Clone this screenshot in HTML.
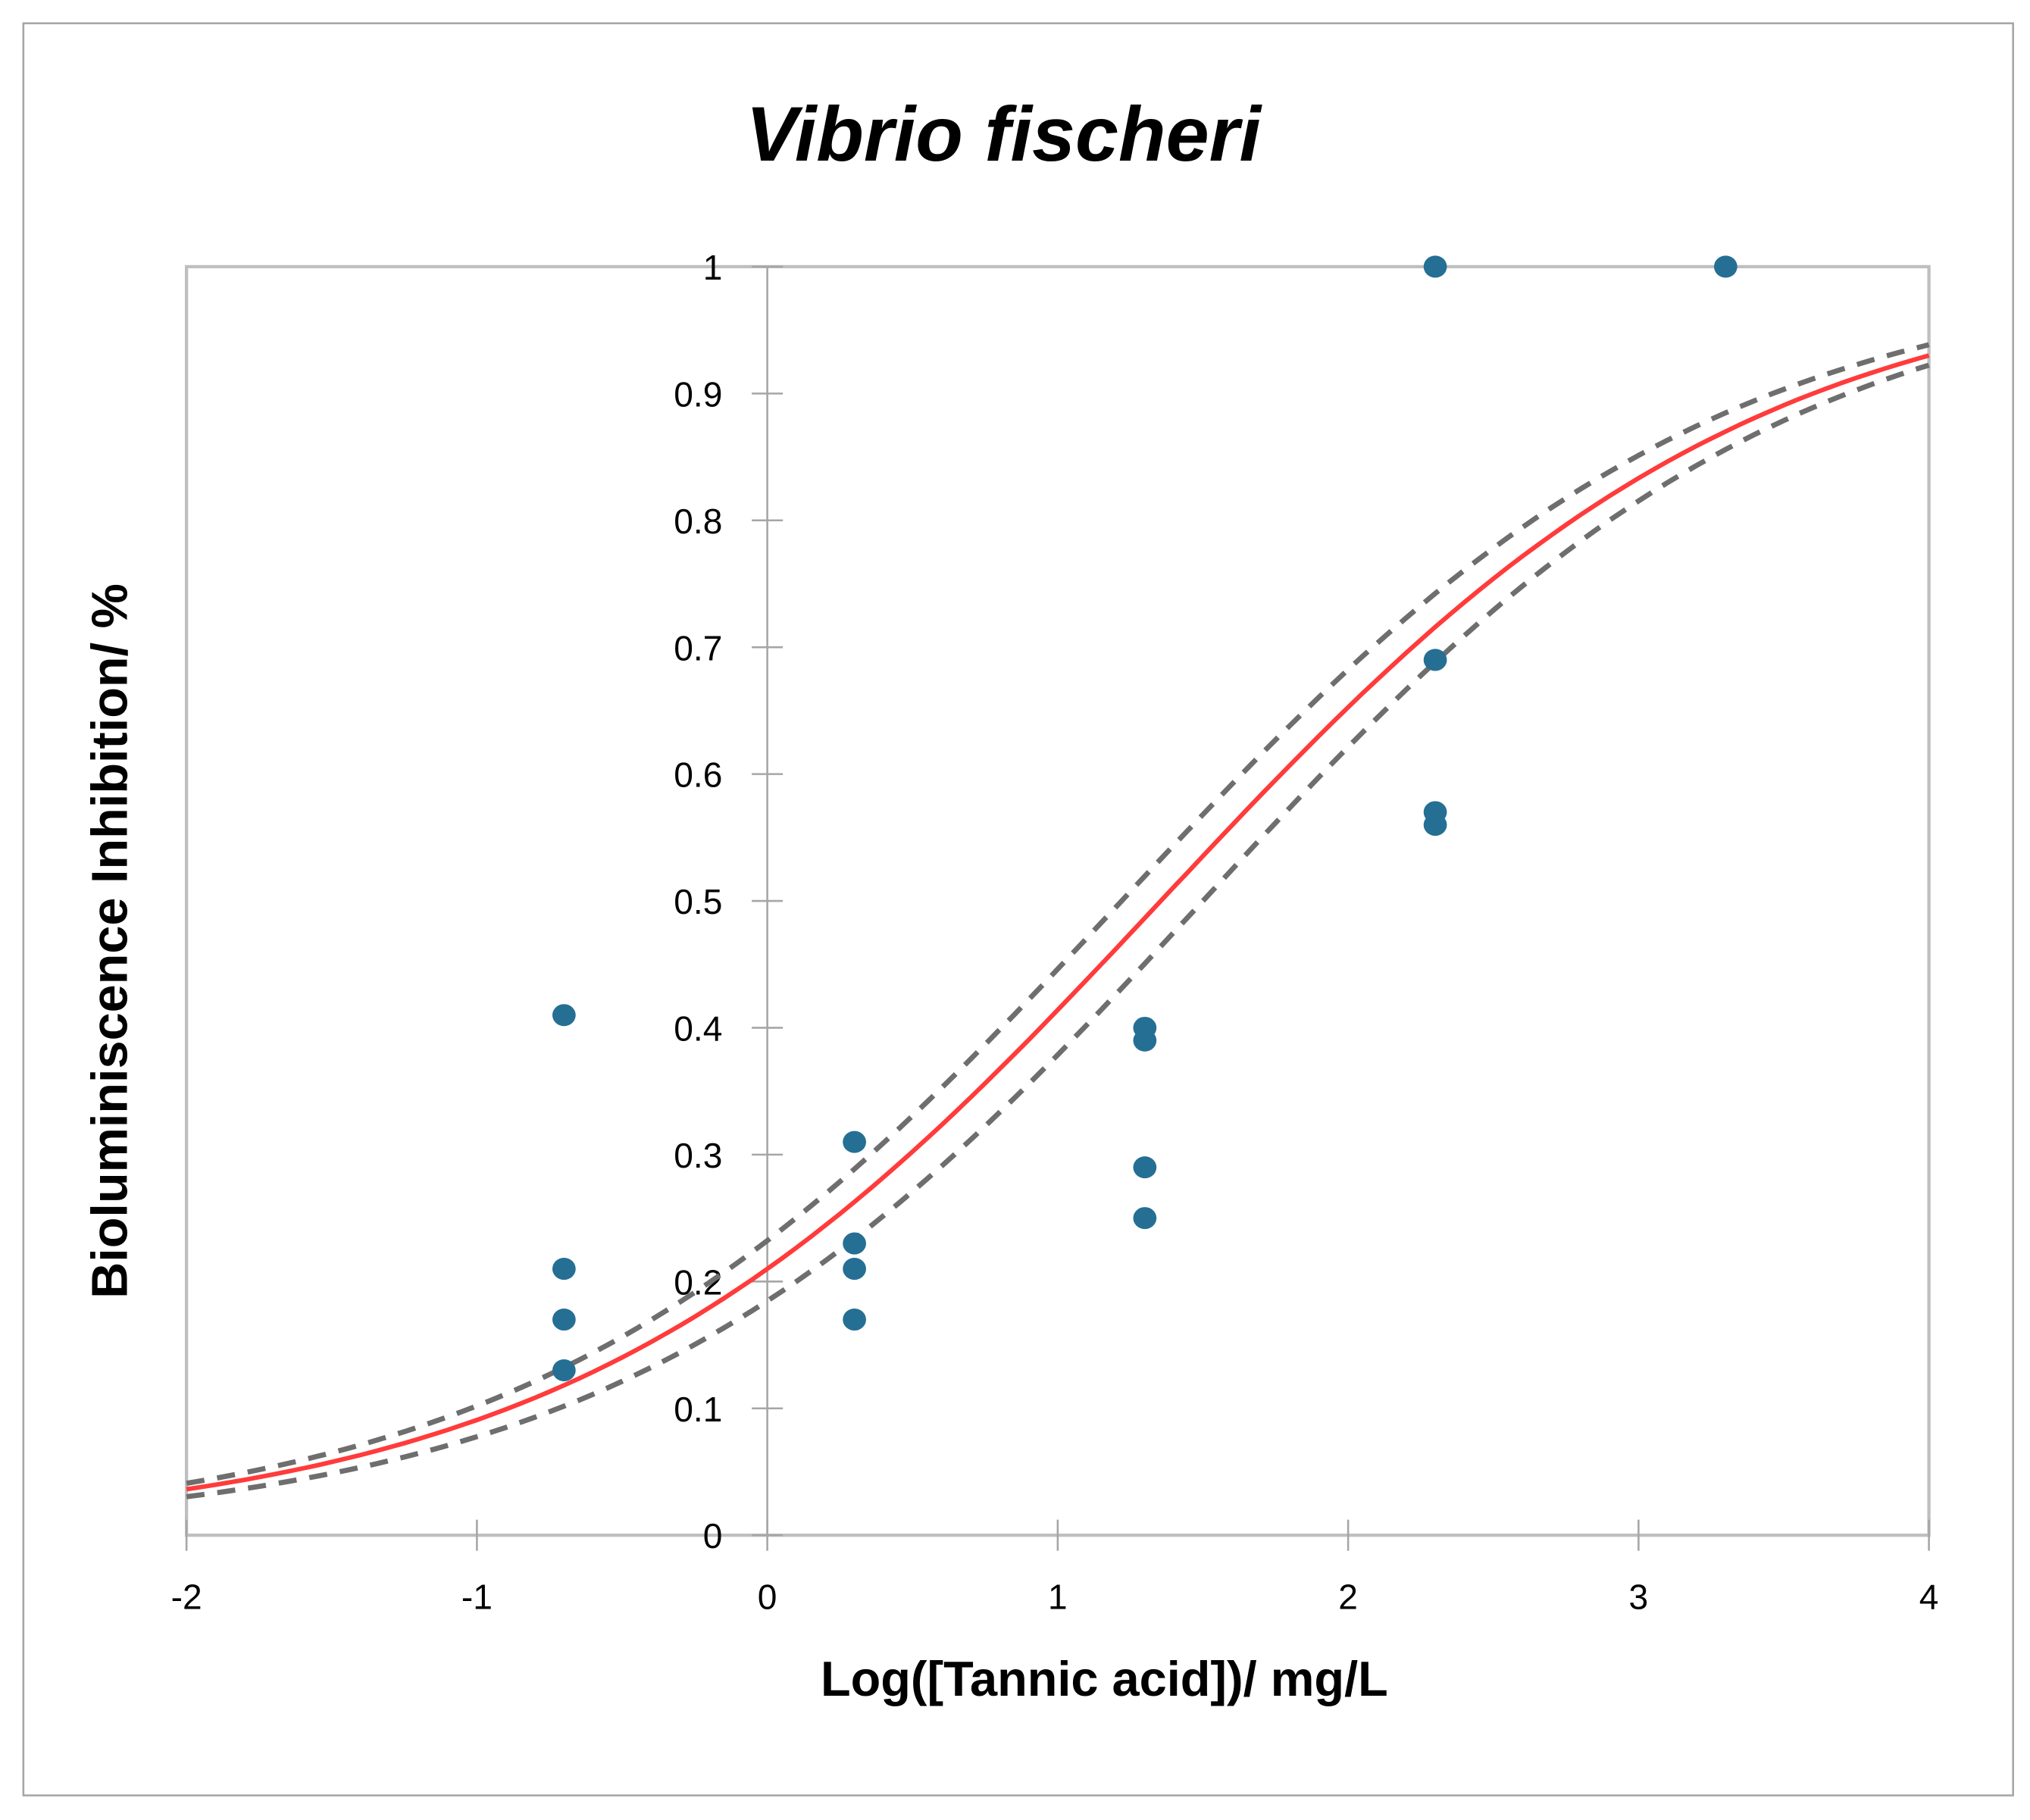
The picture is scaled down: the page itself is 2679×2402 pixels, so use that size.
<!DOCTYPE html>
<html><head><meta charset="utf-8"><style>
html,body{margin:0;padding:0;background:#fff;}
svg{display:block;}
</style></head><body>
<svg id="chart" width="2679" height="2402" viewBox="0 0 1568 1406" xmlns="http://www.w3.org/2000/svg">
<rect x="18" y="18" width="1537" height="1369" fill="#fff" stroke="#a6a6a6" stroke-width="1.5"/>
<text x="775" y="124" text-anchor="middle" font-family="Liberation Sans, sans-serif" font-size="60" font-weight="bold" font-style="italic" fill="#000">Vibrio fischeri</text>
<rect x="144" y="206" width="1346" height="980" fill="none" stroke="#bfbfbf" stroke-width="2.5"/>
<g id="axes"></g>
<g id="curves"></g>
<g id="points"></g>
<text x="853" y="1310" text-anchor="middle" font-family="Liberation Sans, sans-serif" font-size="38" font-weight="bold" fill="#000">Log([Tannic acid])/  mg/L</text>
<text transform="translate(98,727) rotate(-90)" text-anchor="middle" font-family="Liberation Sans, sans-serif" font-size="39" font-weight="bold" fill="#000">Bioluminiscence Inhibition/ %</text>
</svg>
<script>
const xTicks = [-2, -1, 0, 1, 2, 3, 4];
const yTicks = [0, 0.1, 0.2, 0.3, 0.4, 0.5, 0.6, 0.7, 0.8, 0.9, 1];
const yTickLabels = ["0","0.1","0.2","0.3","0.4","0.5","0.6","0.7","0.8","0.9","1"];
const pointX = [-0.7,-0.7,-0.7,-0.7, 0.3,0.3,0.3,0.3, 1.3,1.3,1.3,1.3, 2.3,2.3,2.3,2.3, 3.3];
const pointY = [0.41,0.21,0.17,0.13, 0.31,0.23,0.21,0.17, 0.40,0.39,0.29,0.25, 1.0,0.69,0.57,0.56, 1.0];
// logistic fit parameters [slope, midpoint]
const fitParams = [0.978, 1.355];
const upperParams = [0.98, 1.22];
const lowerParams = [0.99, 1.5];

const NS = "http://www.w3.org/2000/svg";
const X0 = 144, X1 = 1490, Y0 = 1186, Y1 = 206;
function sx(v){ return X0 + (v - (-2)) / 6 * (X1 - X0); }
function sy(v){ return Y0 - v * (Y0 - Y1); }
function mk(tag, attrs, parent){ const e = document.createElementNS(NS, tag); for (const k in attrs) e.setAttribute(k, attrs[k]); parent.appendChild(e); return e; }

const axes = document.getElementById('axes');
const ax0 = sx(0);
const yAxis = mk('line', {x1: ax0, y1: Y1, x2: ax0, y2: Y0, stroke: '#a6a6a6', 'stroke-width': 1.5}, axes);


yTicks.forEach((t, i) => {
  const y = sy(t);
  const tk = mk('line', {x1: ax0 - 12, y1: y, x2: ax0 + 12, y2: y, stroke: '#a6a6a6', 'stroke-width': 1.5}, axes);
  
  
  const lb = mk('text', {x: 558, y: y + 10, 'text-anchor': 'end', 'font-family': 'Liberation Sans, sans-serif', 'font-size': 27, fill: '#000'}, axes);
  lb.textContent = yTickLabels[i];
  
  
});
xTicks.forEach(t => {
  const x = sx(t);
  const tk = mk('line', {x1: x, y1: Y0 - 12, x2: x, y2: Y0 + 12, stroke: '#a6a6a6', 'stroke-width': 1.5}, axes);
  
  
  const lb = mk('text', {x: x, y: 1243, 'text-anchor': 'middle', 'font-family': 'Liberation Sans, sans-serif', 'font-size': 27, fill: '#000'}, axes);
  lb.textContent = String(t);
  
  
});

function logistic(p, x){ return 1 / (1 + Math.exp(-p[0] * (x - p[1]))); }
function curvePath(p){
  let d = '';
  for (let i = 0; i <= 120; i++) {
    const x = -2 + 6 * i / 120;
    d += (i ? 'L' : 'M') + sx(x).toFixed(1) + ',' + sy(logistic(p, x)).toFixed(1);
  }
  return d;
}
const curves = document.getElementById('curves');
const up = mk('path', {d: curvePath(upperParams), fill: 'none', stroke: '#6e6e6e', 'stroke-width': 4, 'stroke-dasharray': '14 10'}, curves);


const lo = mk('path', {d: curvePath(lowerParams), fill: 'none', stroke: '#6e6e6e', 'stroke-width': 4, 'stroke-dasharray': '14 10'}, curves);


const fit = mk('path', {d: curvePath(fitParams), fill: 'none', stroke: '#ff3b3b', 'stroke-width': 3.5}, curves);



const pts = document.getElementById('points');
pointX.forEach((x, i) => {
  const c = mk('ellipse', {cx: sx(x), cy: sy(pointY[i]), rx: 9, ry: 8.5, fill: '#256f94'}, pts);
  
  
});
</script>
</body></html>
